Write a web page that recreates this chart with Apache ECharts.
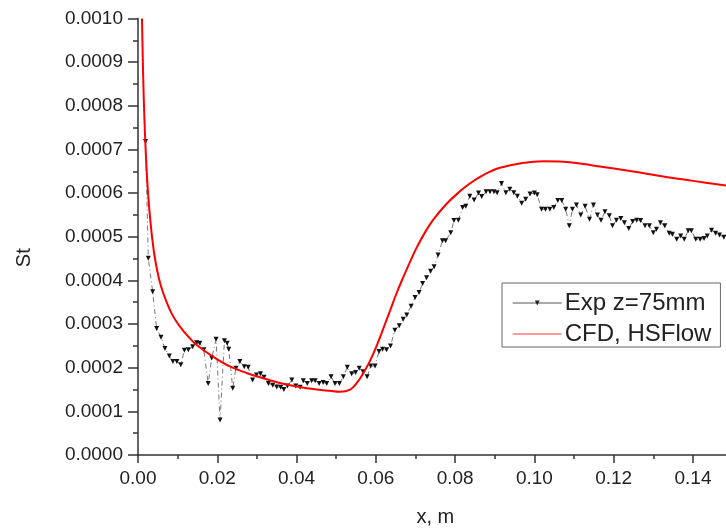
<!DOCTYPE html>
<html>
<head>
<meta charset="utf-8">
<script src="https://cdn.jsdelivr.net/npm/echarts@6/dist/echarts.min.js"></script>
<style>html,body{margin:0;padding:0;background:#fff}#c{width:726px;height:529px}</style>
</head>
<body>
<div id="c"></div>
<script>
// Experimental data (Exp z=75mm)
const expX = [0.0019,0.0026,0.0037,0.0047,0.0058,0.0068,0.0079,0.0088,0.0098,0.0108,0.0117,0.0127,0.0138,0.0148,0.0156,0.0166,0.0177,0.0186,0.0197,0.0207,0.0218,0.0225,0.0229,0.0239,0.0247,0.0257,0.0268,0.0278,0.0289,0.0299,0.0309,0.0318,0.0329,0.0340,0.0350,0.0360,0.0368,0.0377,0.0388,0.0398,0.0409,0.0417,0.0427,0.0438,0.0447,0.0457,0.0467,0.0476,0.0487,0.0497,0.0508,0.0518,0.0528,0.0539,0.0549,0.0558,0.0568,0.0578,0.0587,0.0598,0.0608,0.0617,0.0627,0.0637,0.0648,0.0659,0.0669,0.0678,0.0689,0.0699,0.0709,0.0718,0.0728,0.0738,0.0747,0.0757,0.0768,0.0776,0.0789,0.0797,0.0808,0.0819,0.0827,0.0837,0.0848,0.0859,0.0867,0.0878,0.0888,0.0898,0.0906,0.0917,0.0928,0.0938,0.0948,0.0957,0.0968,0.0978,0.0989,0.1000,0.1007,0.1018,0.1028,0.1039,0.1049,0.1059,0.1069,0.1079,0.1088,0.1096,0.1106,0.1117,0.1128,0.1139,0.1149,0.1159,0.1168,0.1178,0.1189,0.1197,0.1207,0.1218,0.1227,0.1238,0.1248,0.1258,0.1268,0.1279,0.1290,0.1300,0.1308,0.1318,0.1329,0.1340,0.1348,0.1359,0.1369,0.1378,0.1388,0.1396,0.1407,0.1418,0.1428,0.1436,0.1447,0.1457,0.1467,0.1478];
const expSt = [0.000718,0.000451,0.000374,0.000290,0.000270,0.000244,0.000227,0.000214,0.000214,0.000207,0.000240,0.000241,0.000248,0.000257,0.000256,0.000241,0.000164,0.000222,0.000265,0.000080,0.000262,0.000256,0.000242,0.000153,0.000199,0.000214,0.000202,0.000201,0.000172,0.000183,0.000186,0.000178,0.000164,0.000160,0.000156,0.000155,0.000150,0.000158,0.000172,0.000158,0.000155,0.000170,0.000164,0.000170,0.000170,0.000164,0.000166,0.000164,0.000179,0.000164,0.000164,0.000179,0.000201,0.000186,0.000189,0.000199,0.000191,0.000179,0.000204,0.000204,0.000237,0.000242,0.000241,0.000250,0.000286,0.000296,0.000311,0.000321,0.000341,0.000361,0.000372,0.000393,0.000406,0.000421,0.000431,0.000458,0.000491,0.000491,0.000509,0.000537,0.000538,0.000567,0.000570,0.000593,0.000584,0.000600,0.000592,0.000603,0.000603,0.000603,0.000601,0.000622,0.000601,0.000609,0.000601,0.000593,0.000577,0.000586,0.000598,0.000600,0.000596,0.000563,0.000563,0.000563,0.000567,0.000583,0.000583,0.000563,0.000525,0.000563,0.000573,0.000550,0.000570,0.000540,0.000573,0.000550,0.000538,0.000557,0.000548,0.000525,0.000538,0.000542,0.000532,0.000519,0.000535,0.000538,0.000537,0.000525,0.000525,0.000509,0.000517,0.000532,0.000525,0.000508,0.000506,0.000494,0.000502,0.000494,0.000514,0.000514,0.000494,0.000494,0.000496,0.000502,0.000515,0.000508,0.000504,0.000499];

// CFD, HSFlow
const cfdX = [0.0010,0.0013,0.0016,0.0019,0.0022,0.0026,0.0030,0.0036,0.0043,0.0053,0.0064,0.0085,0.0106,0.0127,0.0148,0.0190,0.0232,0.0274,0.0316,0.0358,0.0400,0.0442,0.0484,0.0510,0.0535,0.0552,0.0568,0.0585,0.0602,0.0619,0.0636,0.0652,0.0669,0.0686,0.0703,0.0724,0.0745,0.0778,0.0812,0.0837,0.0863,0.0888,0.0913,0.0970,0.1023,0.1073,0.1120,0.1165,0.1245,0.1325,0.1400,0.1500];
const cfdSt = [0.001000,0.000870,0.000775,0.000705,0.000648,0.000592,0.000548,0.000495,0.000449,0.000404,0.000370,0.000324,0.000294,0.000271,0.000252,0.000225,0.000203,0.000188,0.000176,0.000165,0.000157,0.000151,0.000147,0.000145,0.000150,0.000165,0.000187,0.000215,0.000250,0.000290,0.000331,0.000370,0.000407,0.000442,0.000475,0.000510,0.000539,0.000575,0.000604,0.000622,0.000637,0.000649,0.000658,0.000669,0.000673,0.000672,0.000667,0.000661,0.000650,0.000638,0.000628,0.000615];

const expName = 'Exp z=75mm';
const cfdName = 'CFD, HSFlow';

const font = 'Liberation Sans, Arial, sans-serif';
const chart = echarts.init(document.getElementById('c'), null, {renderer: 'canvas'});
chart.setOption({
  animation: false,
  backgroundColor: '#fff',
  grid: {left: 138, top: 18.5, right: -6.6, bottom: 74, containLabel: false, outerBoundsMode: 'none'},
  legend: {
    orient: 'vertical',
    left: 502, top: 283,
    backgroundColor: '#fff',
    borderColor: '#666', borderWidth: 1, borderRadius: 0,
    padding: [8, 9, 1, 10],
    itemWidth: 49, itemHeight: 6, itemGap: 7,
    textStyle: {fontFamily: font, fontSize: 24, color: '#222', lineHeight: 22, padding: [0,0,0,-2]},
    data: [
      {name: expName, itemStyle: {color: '#222'}, lineStyle: {color: '#555', width: 1, type: 'solid'}},
      {name: cfdName, itemStyle: {opacity: 0}, lineStyle: {color: '#ff7a7a', width: 1.5}}
    ]
  },
  xAxis: {
    type: 'value', min: 0, max: 0.15, interval: 0.02,
    name: 'x, m', nameLocation: 'middle', nameGap: 52,
    nameTextStyle: {fontFamily: font, fontSize: 20, color: '#222'},
    axisLine: {show: true, onZero: false, lineStyle: {color: '#333', width: 1.5}},
    axisTick: {show: true, length: 8, inside: false, lineStyle: {color: '#333', width: 1.5}},
    minorTick: {show: true, splitNumber: 2, length: 4, lineStyle: {color: '#333', width: 1.5}},
    splitLine: {show: false},
    axisLabel: {fontFamily: font, fontSize: 19, color: '#222', margin: 14, showMaxLabel: false,
      formatter: v => v.toFixed(2)}
  },
  yAxis: {
    type: 'value', min: 0, max: 0.001, interval: 0.0001,
    name: 'St', nameLocation: 'middle', nameGap: 104,
    nameTextStyle: {fontFamily: font, fontSize: 20, color: '#222', padding: [0, 42, 0, 0]},
    axisLine: {show: true, onZero: false, lineStyle: {color: '#333', width: 1.5}},
    axisTick: {show: true, length: 10, inside: false, lineStyle: {color: '#333', width: 1.5}},
    minorTick: {show: true, splitNumber: 2, length: 5, lineStyle: {color: '#333', width: 1.5}},
    splitLine: {show: false},
    axisLabel: {fontFamily: font, fontSize: 19, color: '#222', margin: 15,
      formatter: v => v.toFixed(4)}
  },
  series: [
    {
      name: expName, type: 'line',
      data: expX.map((x, i) => [x, expSt[i]]),
      symbol: 'triangle', symbolRotate: 180, symbolSize: 5,
      itemStyle: {color: '#111'},
      lineStyle: {color: '#777', width: 1, type: [5, 3, 1, 3]},
      z: 2
    },
    {
      name: cfdName, type: 'line',
      data: cfdX.map((x, i) => [x, cfdSt[i]]),
      symbol: 'none', smooth: 0.4,
      lineStyle: {color: '#ff0000', width: 2},
      itemStyle: {color: '#ff0000'},
      z: 3
    }
  ]
});
</script>
</body>
</html>
